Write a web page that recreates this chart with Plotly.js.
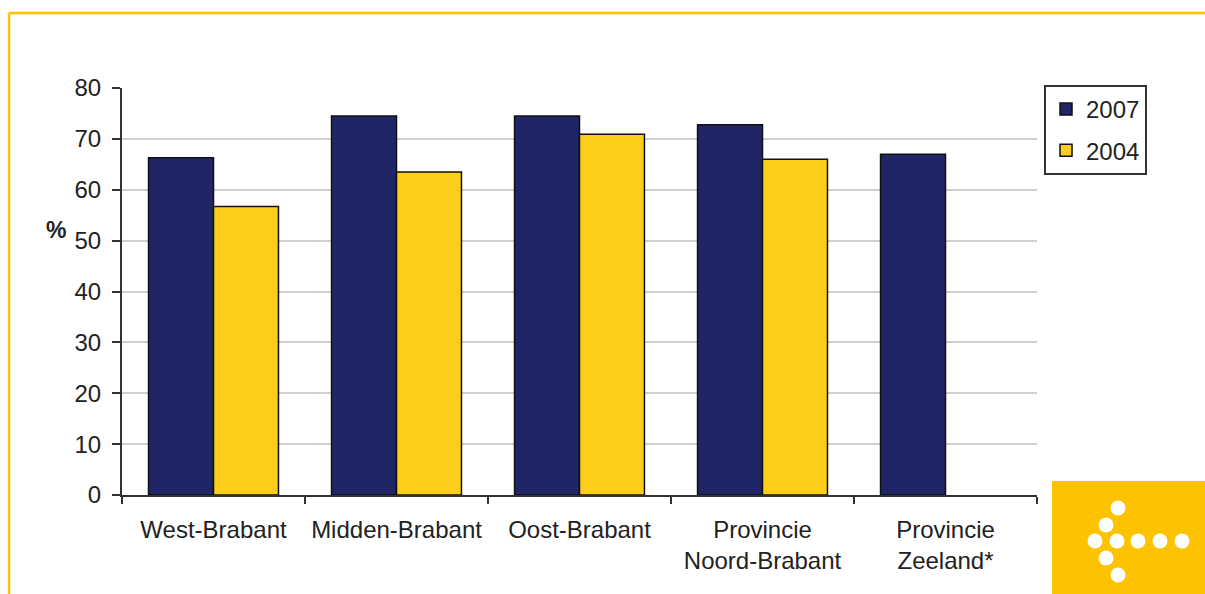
<!DOCTYPE html>
<html>
<head>
<meta charset="utf-8">
<script src="https://cdn.plot.ly/plotly-3.0.1.min.js"></script>
<style>
html,body{margin:0;padding:0;background:#fff;}
#chart{width:1205px;height:594px;}
</style>
</head>
<body>
<div id="chart"></div>
<script>
var categories = ["West-Brabant", "Midden-Brabant", "Oost-Brabant", "Provincie<br>Noord-Brabant", "Provincie<br>Zeeland*"];
var values2007 = [66.3, 74.5, 74.5, 72.8, 67.0];
var values2004 = [56.7, 63.5, 70.9, 66.0, null];
var yTicks = [0, 10, 20, 30, 40, 50, 60, 70, 80];
var seriesNames = ["2007", "2004"];

var navy = "#1F2565";
var gold = "#FCCD1B";
var brand = "#FDC300";

// plot area in pixels
var L = 122, R = 1037, T = 88, B = 495, W = 1205, H = 594;
function px(x){ return (x - L) / (R - L); }
function py(y){ return (B - y) / (B - T); }

var traces = [
  {type:"bar", name:seriesNames[0], x:categories, y:values2007, legendgroup:"a",
   marker:{color:navy, line:{color:"#111", width:1.5}}, hoverinfo:"y"},
  {type:"bar", name:seriesNames[1], x:categories, y:values2004, legendgroup:"b",
   marker:{color:gold, line:{color:"#111", width:1.5}}, hoverinfo:"y"}
];

var shapes = [
  // yellow frame lines
  {type:"line", xref:"paper", yref:"paper", x0:px(9), x1:px(1205), y0:py(13), y1:py(13), line:{color:brand, width:2.5}},
  {type:"line", xref:"paper", yref:"paper", x0:px(9), x1:px(9), y0:py(13), y1:py(594), line:{color:brand, width:2.5}},
  // logo square
  {type:"rect", xref:"paper", yref:"paper", x0:px(1052), x1:px(1205), y0:py(481), y1:py(594), fillcolor:brand, line:{width:0}, layer:"above"}
];
var dots = [[1118,508],[1106,525],[1095,541],[1117,541],[1138,541],[1160,541],[1182,541],[1106,558],[1118,575]];
dots.forEach(function(d){
  var r = 7.5;
  shapes.push({type:"circle", xref:"paper", yref:"paper", x0:px(d[0]-r), x1:px(d[0]+r), y0:py(d[1]+r), y1:py(d[1]-r), fillcolor:"#fff", line:{width:0}, layer:"above"});
});

var layout = {
  width:W, height:H,
  margin:{l:L, r:W-R, t:T, b:H-B, pad:0},
  paper_bgcolor:"#fff", plot_bgcolor:"#fff",
  font:{family:"Liberation Sans, Arial, sans-serif", size:24, color:"#222"},
  barmode:"group", bargap:0.29, bargroupgap:0,
  showlegend:true,
  legend:{x:px(1044), y:py(85), xanchor:"left", yanchor:"top",
    bgcolor:"#fff", bordercolor:"#333", borderwidth:2,
    font:{size:24, color:"#222"}, traceorder:"grouped", tracegroupgap:7},
  xaxis:{type:"category", showgrid:false, showline:true, linecolor:"#333", linewidth:2,
    ticks:"outside", tickson:"boundaries", ticklen:7, tickwidth:2, tickcolor:"#333",
    ticklabelstandoff:12,
    tickfont:{size:24, color:"#222"}, fixedrange:true},
  yaxis:{range:[0,80], tickvals:yTicks, ticktext:yTicks.map(String), showgrid:true, gridcolor:"#cfcfcf", gridwidth:2,
    showline:true, linecolor:"#333", linewidth:2, zeroline:false,
    ticks:"outside", ticklen:8, tickwidth:2, tickcolor:"#333",
    ticklabelstandoff:6,
    tickfont:{size:24, color:"#222"}, fixedrange:true},
  annotations:[
    {text:"<b>%</b>", xref:"paper", yref:"paper", x:px(44), y:py(230), showarrow:false, font:{size:23, color:"#222"}}
  ],
  shapes:shapes
};

Plotly.newPlot("chart", traces, layout, {displayModeBar:false, staticPlot:true});
</script>
</body>
</html>
